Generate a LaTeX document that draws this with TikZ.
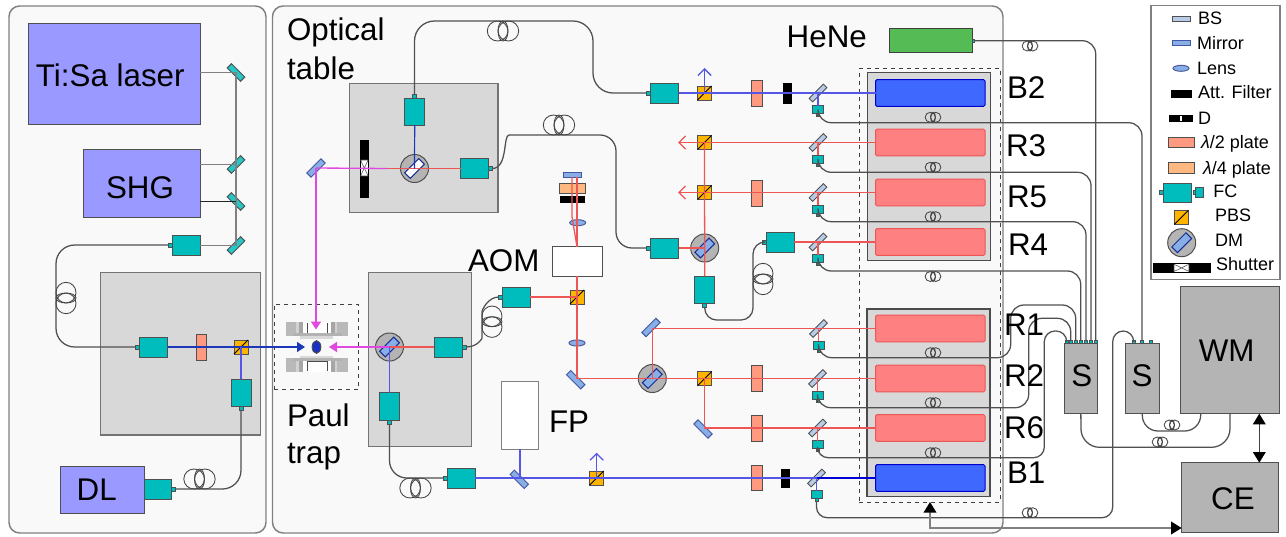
\documentclass[tikz,border=0pt]{standalone}
\usepackage{fontspec}
\setmainfont{Liberation Sans}
\usetikzlibrary{arrows.meta,shapes.geometric}
\definecolor{fccol}{HTML}{00BDBD}
\definecolor{tisacol}{HTML}{9999FF}
\definecolor{panelcol}{HTML}{F9F9F9}
\definecolor{greybox}{HTML}{D8D8D8}
\definecolor{edgecol}{HTML}{505050}
\definecolor{halfcol}{HTML}{FF9980}
\definecolor{quartcol}{HTML}{FFB880}
\definecolor{pbscol}{HTML}{FFB400}
\definecolor{bscol}{HTML}{B8CCE8}
\definecolor{mircol}{HTML}{88AEE6}
\definecolor{redcol}{HTML}{FF8080}
\definecolor{redline}{HTML}{EE5555}
\definecolor{bluerect}{HTML}{3F68FF}
\definecolor{blueline}{HTML}{5555E6}
\definecolor{dkblue}{HTML}{1C38B8}
\definecolor{magcol}{HTML}{E048E0}
\definecolor{greenhe}{HTML}{55BB55}
\definecolor{devcol}{HTML}{B4B4B4}
\definecolor{fibcol}{HTML}{505050}
\tikzset{
  x=0.75pt,y=-0.75pt,
  base/.style={draw=edgecol,line width=0.75pt,inner sep=0pt,outer sep=0pt,rectangle},
  panel/.style={base,draw=gray,line width=1.1pt,fill=panelcol,rounded corners=8pt},
  greyarea/.style={base,draw=gray!90!black,line width=1pt,fill=greybox},
  dev/.style={base,fill=tisacol},
  instr/.style={base,fill=devcol},
  whitebox/.style={base,fill=white},
  fcbox/.style={base,fill=fccol},
  portbox/.style={base,fill=fccol,line width=0.6pt},
  halfp/.style={base,fill=halfcol},
  quartp/.style={base,fill=quartcol},
  pbsbox/.style={base,fill=pbscol},
  blk/.style={base,fill=black,draw=black},
  gap/.style={base,fill=white,draw=none},
  redrect/.style={base,draw=redline,fill=redcol,rounded corners=1pt},
  bluerec/.style={base,draw=blue!80!black,fill=bluerect,rounded corners=1pt},
  bsp/.style={base,fill=bscol,line width=0.65pt},
  mirp/.style={base,fill=mircol,draw=dkblue!60!gray},
  cyanm/.style={base,fill=fccol!85!white},
  dashbox/.style={base,draw=black!75,dashed,fill=none},
  fiber/.style={draw=fibcol,line width=0.95pt,rounded corners=10pt},
  coilline/.style={draw=black!72,line width=0.65pt},
  redb/.style={draw=redline,line width=0.95pt},
  blueb/.style={draw=blueline,line width=0.95pt},
  dkb/.style={draw=dkblue,line width=0.9pt},
  magb/.style={draw=magcol,line width=1pt},
  greyb/.style={draw=gray,line width=1.1pt},
  barbr/.style={-{Straight Barb[length=5pt,width=10pt]}},
  lab/.style={anchor=base west,inner sep=0pt,outer sep=0pt,font=\fontsize{23.5}{28}\selectfont},
  labc/.style={lab,anchor=base},
  leg/.style={anchor=base west,inner sep=0pt,outer sep=0pt,font=\fontsize{13.5}{16}\selectfont},
}
\newcommand{\bx}[6]{%
  \pgfmathsetmacro\bxcx{(#3+#5)/2}\pgfmathsetmacro\bxcy{(#4+#6)/2}%
  \pgfmathsetmacro\bxw{(#5-(#3))*0.75}\pgfmathsetmacro\bxh{(#6-(#4))*0.75}%
  \node[#1,minimum width=\bxw pt,minimum height=\bxh pt] (#2) at (\bxcx,\bxcy) {};}
\newcommand{\rotb}[7]{%
  \pgfmathsetmacro\bxw{#5*0.75}\pgfmathsetmacro\bxh{#6*0.75}%
  \node[#1,minimum width=\bxw pt,minimum height=\bxh pt,rotate=#7] (#2) at (#3,#4) {};}
\newcommand{\pbsq}[3]{%
  \pgfmathsetmacro\pbax{#2-7}\pgfmathsetmacro\pbay{#3-7}\pgfmathsetmacro\pbbx{#2+7}\pgfmathsetmacro\pbby{#3+7}%
  \bx{pbsbox}{#1}{\pbax}{\pbay}{\pbbx}{\pbby}%
  \draw[black,line width=0.7pt] (#1.south west) -- (#1.north east);}
\newcommand{\dmk}[4]{%
  \node[base,circle,fill=devcol,draw=edgecol,minimum size=21pt] (#1) at (#2,#3) {};
  \rotb{base,fill=#4,draw=dkblue!80!black}{#1-bar}{#2}{#3}{20}{8}{45}}
\newcommand{\coilh}[3]{%
  \pgfmathsetmacro\crad{10*#3}\pgfmathsetmacro\coff{5.4*#3}\pgfmathsetmacro\cinn{5*#3}%
  \pgfmathsetmacro\cla{#1-\coff}\pgfmathsetmacro\clb{#1+\coff}%
  \pgfmathsetmacro\cwd{\crad*1.03}%
  \draw[coilline] (\cla,#2) ellipse [x radius=\cwd,y radius=\crad];
  \draw[coilline] (\clb,#2) ellipse [x radius=\cwd,y radius=\crad];
  \draw[coilline] (#1,#2) ellipse [x radius=\cinn,y radius=\crad];}
\newcommand{\coilv}[3]{%
  \pgfmathsetmacro\crad{10*#3}\pgfmathsetmacro\coff{5.4*#3}\pgfmathsetmacro\cinn{5*#3}%
  \pgfmathsetmacro\cla{#2-\coff}\pgfmathsetmacro\clb{#2+\coff}%
  \pgfmathsetmacro\cwd{\crad*1.03}%
  \draw[coilline] (#1,\cla) ellipse [x radius=\crad,y radius=\cwd];
  \draw[coilline] (#1,\clb) ellipse [x radius=\crad,y radius=\cwd];
  \draw[coilline] (#1,#2) ellipse [x radius=\crad,y radius=\cinn];}
% row of the spectroscopy stack: id, y, rectangle style, small FC centre
\newcommand{\rw}[4]{%
  \pgfmathsetmacro\rwa{#2-13.3}\pgfmathsetmacro\rwb{#2+13.3}%
  \bx{#3}{r#1}{875.5}{\rwa}{985}{\rwb}%
  \pgfmathsetmacro\sfa{#4-5.5}\pgfmathsetmacro\sfb{#4+5.5}\pgfmathsetmacro\sfc{#2+12.5}\pgfmathsetmacro\sfd{#2+20.5}%
  \bx{fcbox,line width=0.6pt}{sf#1}{\sfa}{\sfc}{\sfb}{\sfd}%
  \pgfmathsetmacro\spa{#4-1.5}\pgfmathsetmacro\spb{#4+1.5}\pgfmathsetmacro\spc{#2+23.5}%
  \bx{portbox}{sp#1}{\spa}{\sfd}{\spb}{\spc}%
  \rotb{bsp}{b#1}{#4}{#2}{20}{5}{45}}
\begin{document}
\begin{tikzpicture}
\useasboundingbox (0,0) rectangle (1286,536);
% panels
\bx{panel}{panelL}{9}{6}{266}{533}
\bx{panel}{panelR}{272.5}{6}{1003}{533}
\bx{greyarea}{areaA}{100.5}{272.3}{260.7}{435}
\bx{greyarea}{areaB}{349.7}{83.7}{498}{212.3}
\bx{greyarea}{areaC}{368.3}{272.3}{471.7}{446.7}
\bx{greyarea,draw=black!70}{stackU}{867.7}{72.7}{990.7}{260.3}
\bx{greyarea,draw=black!70}{stackL}{867}{309}{990}{496.7}
\bx{dashbox}{stackD}{859}{68.3}{1000}{502}
\bx{dashbox}{trapD}{274}{304}{358.7}{389}
% sources
\bx{dev}{tisa}{28}{23}{200}{124}
\bx{dev}{shg}{83}{149}{200}{217}
\bx{dev}{dl}{60}{466}{144}{513}
\rotb{cyanm}{mA}{236}{72.5}{19}{6}{-45}
\rotb{cyanm}{mB}{236}{164.5}{19}{6}{45}
\rotb{cyanm}{mC}{236}{201.5}{19}{6}{-45}
\rotb{cyanm}{mD}{236}{245.5}{19}{6}{45}
% left panel optics
\bx{fcbox}{fcTop}{172}{235}{200}{255}
\bx{portbox}{fcTop-p}{168}{243}{172}{247}
\bx{fcbox}{fcIn}{139.5}{337}{167.5}{357}
\bx{portbox}{fcIn-p}{135.5}{345}{139.5}{349}
\bx{halfp}{hpA}{196.5}{334}{206.7}{360}
\pbsq{pbsA}{241}{347}
\bx{fcbox}{fcDn}{231}{379}{251}{406}
\bx{portbox}{fcDn-p}{239}{406}{243}{410.5}
\bx{fcbox}{fcDL}{144}{479}{171}{499}
\bx{portbox}{fcDL-p}{171}{487}{175}{491}
% Paul trap
\fill[gray!55] (285.5,322.3) rectangle (348,336);
\fill[gray!35] (296,322.3) rectangle (337,336);
\fill[gray!70] (299,322.3) rectangle (303,336);
\fill[gray!70] (331,322.3) rectangle (335,336);
\fill[white] (303,322.3) rectangle (331,333);
\draw[black!70,line width=0.5pt,fill=white] (307,323) -- (307,333) -- (327,333) -- (327,323);
\fill[gray!60] (293,333) rectangle (342,336);
\fill[gray!30] (300,336) rectangle (333,338.5);
\fill[gray!55] (285.5,358) rectangle (348,371.7);
\fill[gray!35] (296,358) rectangle (337,371.7);
\fill[gray!70] (299,358) rectangle (303,371.7);
\fill[gray!70] (331,358) rectangle (335,371.7);
\fill[white] (303,361) rectangle (331,371.7);
\draw[black!70,line width=0.5pt,fill=white] (307,371) -- (307,361) -- (327,361) -- (327,371);
\fill[gray!60] (293,358) rectangle (342,361);
\fill[gray!30] (300,355.5) rectangle (333,358);
\node[base,ellipse,fill=dkblue!85!blue,draw=black!70,minimum width=6.5pt,minimum height=9.5pt] (ion) at (316.5,347) {};
% shutter
\bx{blk}{shut}{360}{140}{368.7}{197}
\bx{gap}{shutW}{360.5}{160}{368.2}{176}
\draw[black!70,line width=0.4pt] (shutW.north west) -- (shutW.south east) (shutW.north east) -- (shutW.south west) (shutW.north west) -- (shutW.north east) (shutW.south west) -- (shutW.south east);
\rotb{mirp}{mTrap}{316}{168}{20}{6}{45}
\dmk{dmU}{414.5}{168.5}{white}
\bx{fcbox}{fcUt}{404.7}{98}{424.7}{125.3}
\bx{portbox}{fcUt-p}{412.5}{94}{416.5}{98}
\bx{fcbox}{fcUr}{460.7}{158.5}{488.3}{178.5}
\bx{portbox}{fcUr-p}{488.3}{166.5}{492.3}{170.5}
\dmk{dmT}{389.5}{347}{mircol}
\bx{fcbox}{fcCr}{434.3}{337}{462}{357}
\bx{portbox}{fcCr-p}{462}{345}{466}{349}
\bx{fcbox}{fcCd}{379.3}{392.7}{399.7}{420}
\bx{portbox}{fcCd-p}{387.5}{420}{391.5}{424}
% AOM branch
\bx{whitebox}{aom}{552.3}{246.7}{602.7}{276.3}
\bx{mirp}{mRetro}{563}{172.3}{581}{177}
\bx{quartp}{qp}{559.3}{183}{585.3}{193.7}
\bx{blk}{dAp}{560.7}{196}{584}{202.7}
\node[base,ellipse,fill=mircol,draw=dkblue!50!gray,minimum width=12pt,minimum height=4.5pt] (lensA) at (577.7,222.7) {};
\pbsq{pbsAOM}{577}{297}
\bx{fcbox}{fcAo}{502.7}{287}{530}{307}
\bx{portbox}{fcAo-p}{498.7}{295}{502.7}{299}
\node[base,ellipse,fill=mircol,draw=dkblue!50!gray,minimum width=12pt,minimum height=4.5pt] (lensB) at (577,343) {};
\rotb{mirp}{mTurn}{575.7}{379.7}{20}{6}{-45}
% right branch optics
\bx{fcbox}{fcB}{650.7}{83}{678.7}{103}
\bx{portbox}{fcB-p}{646.7}{91}{650.7}{95}
\pbsq{pbsB}{704.5}{93}
\bx{halfp}{hpB}{751.7}{80}{762}{106}
\bx{blk}{attB}{783}{83.7}{791}{103.3}
\pbsq{pbsR3}{704.5}{142.5}
\pbsq{pbsR5}{704.5}{192.5}
\bx{halfp}{hpR5}{751.7}{180}{762}{206}
\dmk{dmM}{704.7}{248}{mircol}
\bx{fcbox}{fcM}{650.7}{238}{678.7}{258}
\bx{portbox}{fcM-p}{646.7}{246}{650.7}{250}
\bx{fcbox}{fcV}{694.7}{276}{714.7}{303.3}
\bx{portbox}{fcV-p}{702.7}{303.3}{706.7}{307.5}
\bx{fcbox}{fcR4}{766.7}{232}{794}{252}
\bx{portbox}{fcR4-p}{762.7}{240}{766.7}{244}
\rotb{mirp}{mR1}{651}{327.5}{20}{6}{45}
\dmk{dmL}{652.3}{378.5}{mircol}
\pbsq{pbsR2}{704.7}{378.5}
\bx{halfp}{hpR2}{751.7}{365.3}{762}{391.5}
\rotb{mirp}{mR6}{703}{429}{20}{6}{-45}
\bx{halfp}{hpR6}{751.7}{415}{762}{441}
% bottom beam
\bx{fcbox}{fcF}{447.7}{468}{475.3}{488}
\bx{portbox}{fcF-p}{443.7}{476}{447.7}{480}
\rotb{mirp}{mFP}{519.3}{479.3}{20}{6}{-45}
\bx{whitebox,draw=gray}{fp}{501.3}{381.3}{538.7}{449.3}
\pbsq{pbsF}{596.7}{478}
\bx{halfp}{hpB1}{751.7}{465}{762}{490.7}
\bx{blk}{attF}{781.3}{469.3}{789}{487}
% stack rows
\rw{B2}{93}{bluerec}{818}
\rw{R3}{142.5}{redrect}{818}
\rw{R5}{192.5}{redrect}{818}
\rw{R4}{242}{redrect}{818}
\rw{R1}{328.5}{redrect}{818.5}
\rw{R2}{378.5}{redrect}{817.5}
\rw{R6}{428}{redrect}{817.5}
\rw{B1}{478}{bluerec}{816.5}
% instruments
\bx{base,fill=greenhe,draw=black!75}{hene}{889}{28.3}{972.3}{52.7}
\bx{portbox}{hene-p}{972.3}{39.5}{974.5}{42}
\bx{instr}{sA}{1064}{343}{1097.7}{413.7}
\bx{instr}{sB}{1125.3}{343}{1159.3}{413.7}
\bx{instr}{wm}{1180.7}{286}{1279.7}{413.7}
\bx{instr}{ce}{1181.7}{462.7}{1278.7}{532.7}
\foreach \n/\xx in {a/1066.7,b/1070.7,c/1075.7,d/1080.7,e/1086,f/1091,g/1095.7}{
  \node[portbox,minimum size=2.5pt] (sA\n) at (\xx,342) {};}
\foreach \n/\xx in {a/1133.7,b/1142,c/1150.7}{
  \node[portbox,minimum size=2.5pt] (sB\n) at (\xx,342) {};}
% legend
\bx{base,draw=gray,line width=1pt,fill=white}{legend}{1151}{5.7}{1280}{279.7}
\bx{bsp}{lgBS}{1172.3}{16}{1190}{21}
\bx{mirp}{lgM}{1172}{40.7}{1190}{45.3}
\node[base,ellipse,fill=mircol,draw=dkblue!50!gray,minimum width=12pt,minimum height=4.5pt] (lgL) at (1181,68.3) {};
\bx{blk}{lgA}{1171.7}{90.7}{1191}{97.3}
\bx{blk}{lgD}{1169.7}{115}{1192.7}{121}
\bx{gap}{lgDg}{1180}{115.5}{1182}{120.5}
\bx{halfp}{lgH}{1168.3}{137.7}{1194}{147.7}
\bx{quartp}{lgQ}{1168.3}{162.7}{1194}{173.3}
\bx{fcbox}{lgF}{1163.3}{183.3}{1191}{202.3}
\bx{portbox}{lgFp}{1159.3}{190.8}{1163.3}{194.8}
\bx{fcbox}{lgf}{1195.7}{187.7}{1203.7}{197.3}
\bx{portbox}{lgfp}{1193.7}{190.8}{1195.7}{194.8}
\pbsq{lgP}{1181.3}{217.5}
\dmk{lgDM}{1181.7}{242.7}{mircol}
\bx{blk}{lgS}{1153.3}{263.7}{1210.7}{272}
\bx{gap}{lgSw}{1174}{264.2}{1189}{271.5}
\draw[black!70,line width=0.4pt] (lgSw.north west) -- (lgSw.south east) (lgSw.north east) -- (lgSw.south west) (lgSw.north west) -- (lgSw.south west) (lgSw.north east) -- (lgSw.south east);
% free-beam ends
\coordinate (arrB) at (704.5,68);
\coordinate (arrR3) at (678,142.5);
\coordinate (arrR5) at (678,192.5);
\coordinate (arrF) at (596.7,452.7);
\coordinate (tipBlue) at (305,347);
\coordinate (tipMagR) at (329,347);
\coordinate (tipMagT) at (316.5,329.5);
\coordinate (mgA) at (387,168.5);
% beams, left
\draw[greyb] (tisa.east |- mA) -- (mA.center) -- (mD.center) -- (fcTop.east |- mD);
\draw[greyb] (shg.east |- mB) -- (mB.center);
\draw[black!85,line width=0.8pt] (shg.east |- mC) -- (mC.center);
\draw[dkb,-{Triangle[length=6pt,width=7.5pt]}] (fcIn.east) -- (tipBlue);
\draw[blueb] (pbsA.center) -- (fcDn.north);
% trap beams
\draw[magb,-{Triangle[length=6pt,width=7.5pt]}] (mTrap.center) -- (mTrap.center |- tipMagT);
\draw[magb] (mTrap.center) -- (mgA);
\draw[magb,-{Triangle[length=6pt,width=7.5pt]}] (dmT.center) -- (tipMagR);
\draw[redb] (mgA) -- (fcUr.west);
\draw[dkb] (fcUt.south) -- (dmU.center);
\draw[redb] (dmT.center) -- (fcCr.west);
\draw[blueb] (dmT.center) -- (fcCd.north);
% AOM beams
\draw[redb] (fcAo.east) -- (pbsAOM.center);
\draw[redb] (aom.south -| pbsAOM) -- (pbsAOM.center) -- (pbsAOM |- rR2.west) -- (rR2.west);
\draw[redb] (aom.north -| pbsAOM) -- (pbsAOM |- mRetro.south);
\draw[redb] (aom.north -| pbsAOM) -- (572,216.7) -- (572,177);
% upper right beams
\draw[blueb] (fcB.east) -- (rB2.west);
\draw[blueb,barbr] (pbsB.center) -- (arrB);
\draw[redb,barbr] (rR3.west) -- (arrR3);
\draw[redb,barbr] (rR5.west) -- (arrR5);
\draw[redb] (pbsR3.center) -- (fcV.north);
\draw[redb] (fcM.east) -- (dmM.center);
\draw[redb] (fcR4.east) -- (rR4.west);
\draw[redb] (dmL.center) -- (dmL |- rR1.west) -- (rR1.west);
\draw[redb] (pbsR2.center) -- (pbsR2 |- rR6.west) -- (rR6.west);
% bottom beam
\draw[blueb] (fcF.east) -- (bB1.center);
\draw[draw=blue!85!black,line width=0.9pt] (bB1.center) -- (rB1.west);
\draw[blueb] (fp.south) -- (fp.south |- fcF);
\draw[blueb,barbr] (pbsF.center) -- (arrF);
% beamsplitter pick-offs
\draw[blueb] (bB2.center) -- (sfB2.north);
\foreach \i in {R3,R5,R4,R1,R2,R6}{\draw[redb] (b\i.center) -- (sf\i.north);}
\draw[blueb] (bB1.center) -- (sfB1.north);
% fibres
\draw[fiber,rounded corners=14pt] (fcTop-p.west) -- (56,245) -- (56,347) -- (fcIn-p.west);
\coilv{66}{298}{1}
\draw[fiber,rounded corners=14pt] (fcDn-p.south) -- (241,489) -- (fcDL-p.east);
\coilh{199.5}{479}{1}
\draw[fiber,rounded corners=15pt] (fcUt-p.north) -- (414.5,21) -- (593,21) -- (593,93) -- (fcB-p.west);
\coilh{503}{31}{1}
\draw[fiber,rounded corners=12pt] (fcUr-p.east) .. controls (508,168.5) and (503,135) .. (525,135) -- (616,135) -- (616,248) -- (fcM-p.west);
\coilh{559}{125}{1}
\draw[fiber] (fcCr-p.east) .. controls (478,347) and (482,338) .. (482,325) .. controls (482,310) and (488,297) .. (fcAo-p.west);
\coilv{492}{321.7}{1}
\draw[fiber,rounded corners=13pt] (fcCd-p.south) -- (389.5,478) -- (fcF-p.west);
\coilh{415.5}{488}{1}
\draw[fiber,rounded corners=9pt] (fcV-p.south) -- (704.7,320) -- (753,320) -- (753,242) -- (fcR4-p.west);
\coilv{763}{279}{1}
\draw[fiber] (spB2.south) -- (818,122.7) -- (1142,122.7) -- (sBb.north);
\coilh{933}{117.3}{0.5}
\draw[fiber] (spR3.south) -- (818,172.3) -- (1091,172.3) -- (sAf.north);
\coilh{933}{167.3}{0.5}
\draw[fiber] (spR5.south) -- (818,221.7) -- (1086,221.7) -- (sAe.north);
\coilh{933}{216.7}{0.5}
\draw[fiber] (spR4.south) -- (818,271) -- (1080.7,271) -- (sAd.north);
\coilh{933}{276.5}{0.5}
\draw[fiber] (spR1.south) -- (818.5,357.7) -- (1010.7,357.7) -- (1010.7,305) -- (1075.7,305) -- (sAc.north);
\coilh{933}{352.7}{0.5}
\draw[fiber] (spR2.south) -- (817.5,407.7) -- (1028.7,407.7) -- (1028.7,318.3) -- (1070.7,318.3) -- (sAb.north);
\coilh{933}{402.7}{0.5}
\draw[fiber,rounded corners=8pt] (spR6.south) -- (817.5,457.7) -- (1044.3,457.7) -- (1044.3,331) -- (1066.7,331) -- (sAa.north);
\coilh{933}{452.7}{0.5}
\draw[fiber,rounded corners=8pt] (spB1.south) -- (816.5,517.7) -- (1112.7,517.7) -- (1112.7,331) -- (1133.7,331) -- (sBa.north);
\coilh{1030}{512.7}{0.5}
\draw[fiber] (hene-p.east) -- (1095.7,40.7) -- (sAg.north);
\coilh{1030}{46}{0.5}
\draw[fiber,rounded corners=14pt] (sA.south) -- (1081,447.3) -- (1230,447.3) -- (1230,413.7);
\coilh{1160}{442}{0.5}
\draw[fiber,rounded corners=12pt] (sB.south) -- (1142,431) -- (1200.7,431) -- (1200.7,413.7);
\coilh{1172}{425}{0.5}
% control arrows
\coordinate (wmA) at (1259.3,413.7);
\coordinate (ceA) at (1259.3,462.7);
\coordinate (stackA) at (930,502);
\coordinate (ceB) at (1181.7,528);
\draw[black!75,line width=1pt,{Triangle[length=8pt,width=9.5pt,black]}-{Triangle[length=8pt,width=9.5pt,black]}] (wmA) -- (ceA);
\draw[gray,line width=1.2pt,{Triangle[length=8pt,width=9.5pt,black]}-{Triangle[length=8pt,width=9.5pt,black]}] (stackA) -- (930,528) -- (ceB);
% labels
\node[lab] (tTisa) at (36,86) {Ti:Sa laser};
\node[lab] (tShg) at (106,198) {SHG};
\node[lab] (tDl) at (76.7,500) {DL};
\node[lab] (tOpt) at (287,40.5) {Optical};
\node[lab] (tTab) at (287,79.3) {table};
\node[lab] (tPaul) at (287,426.7) {Paul};
\node[lab] (tTrap) at (287,463) {trap};
\node[lab] (tAom) at (468,271) {AOM};
\node[lab] (tFp) at (549,432.7) {FP};
\node[lab] (tHe) at (786.7,47) {HeNe};
\node[lab] (tB2) at (1007,98) {B2};
\node[lab] (tR3) at (1006,156.7) {R3};
\node[lab] (tR5) at (1007,207) {R5};
\node[lab] (tR4) at (1008,255.7) {R4};
\node[lab] (tR1) at (1004,335) {R1};
\node[lab] (tR2) at (1004,386) {R2};
\node[lab] (tR6) at (1004,438) {R6};
\node[lab] (tB1) at (1007,483.7) {B1};
\node[labc] (tS1) at (1081.7,386.7) {S};
\node[labc] (tS2) at (1142,386.7) {S};
\node[labc] (tWm) at (1226.7,361.7) {WM};
\node[labc] (tCe) at (1233,509) {CE};
\node[leg] (lBS) at (1198,24.3) {BS};
\node[leg] (lMi) at (1197,49.3) {Mirror};
\node[leg] (lLe) at (1197,74.7) {Lens};
\node[leg] (lAt) at (1198,98.7) {Att. Filter};
\node[leg] (lD) at (1198,124) {D};
\node[leg] (lH) at (1201,148.7) {\textit{λ}/2 plate};
\node[leg] (lQ) at (1203,174.7) {\textit{λ}/4 plate};
\node[leg] (lFC) at (1213.3,197.3) {FC};
\node[leg] (lPB) at (1215,221.3) {PBS};
\node[leg] (lDM) at (1215,246.7) {DM};
\node[leg] (lSh) at (1216,270.7) {Shutter};
\end{tikzpicture}
\end{document}
